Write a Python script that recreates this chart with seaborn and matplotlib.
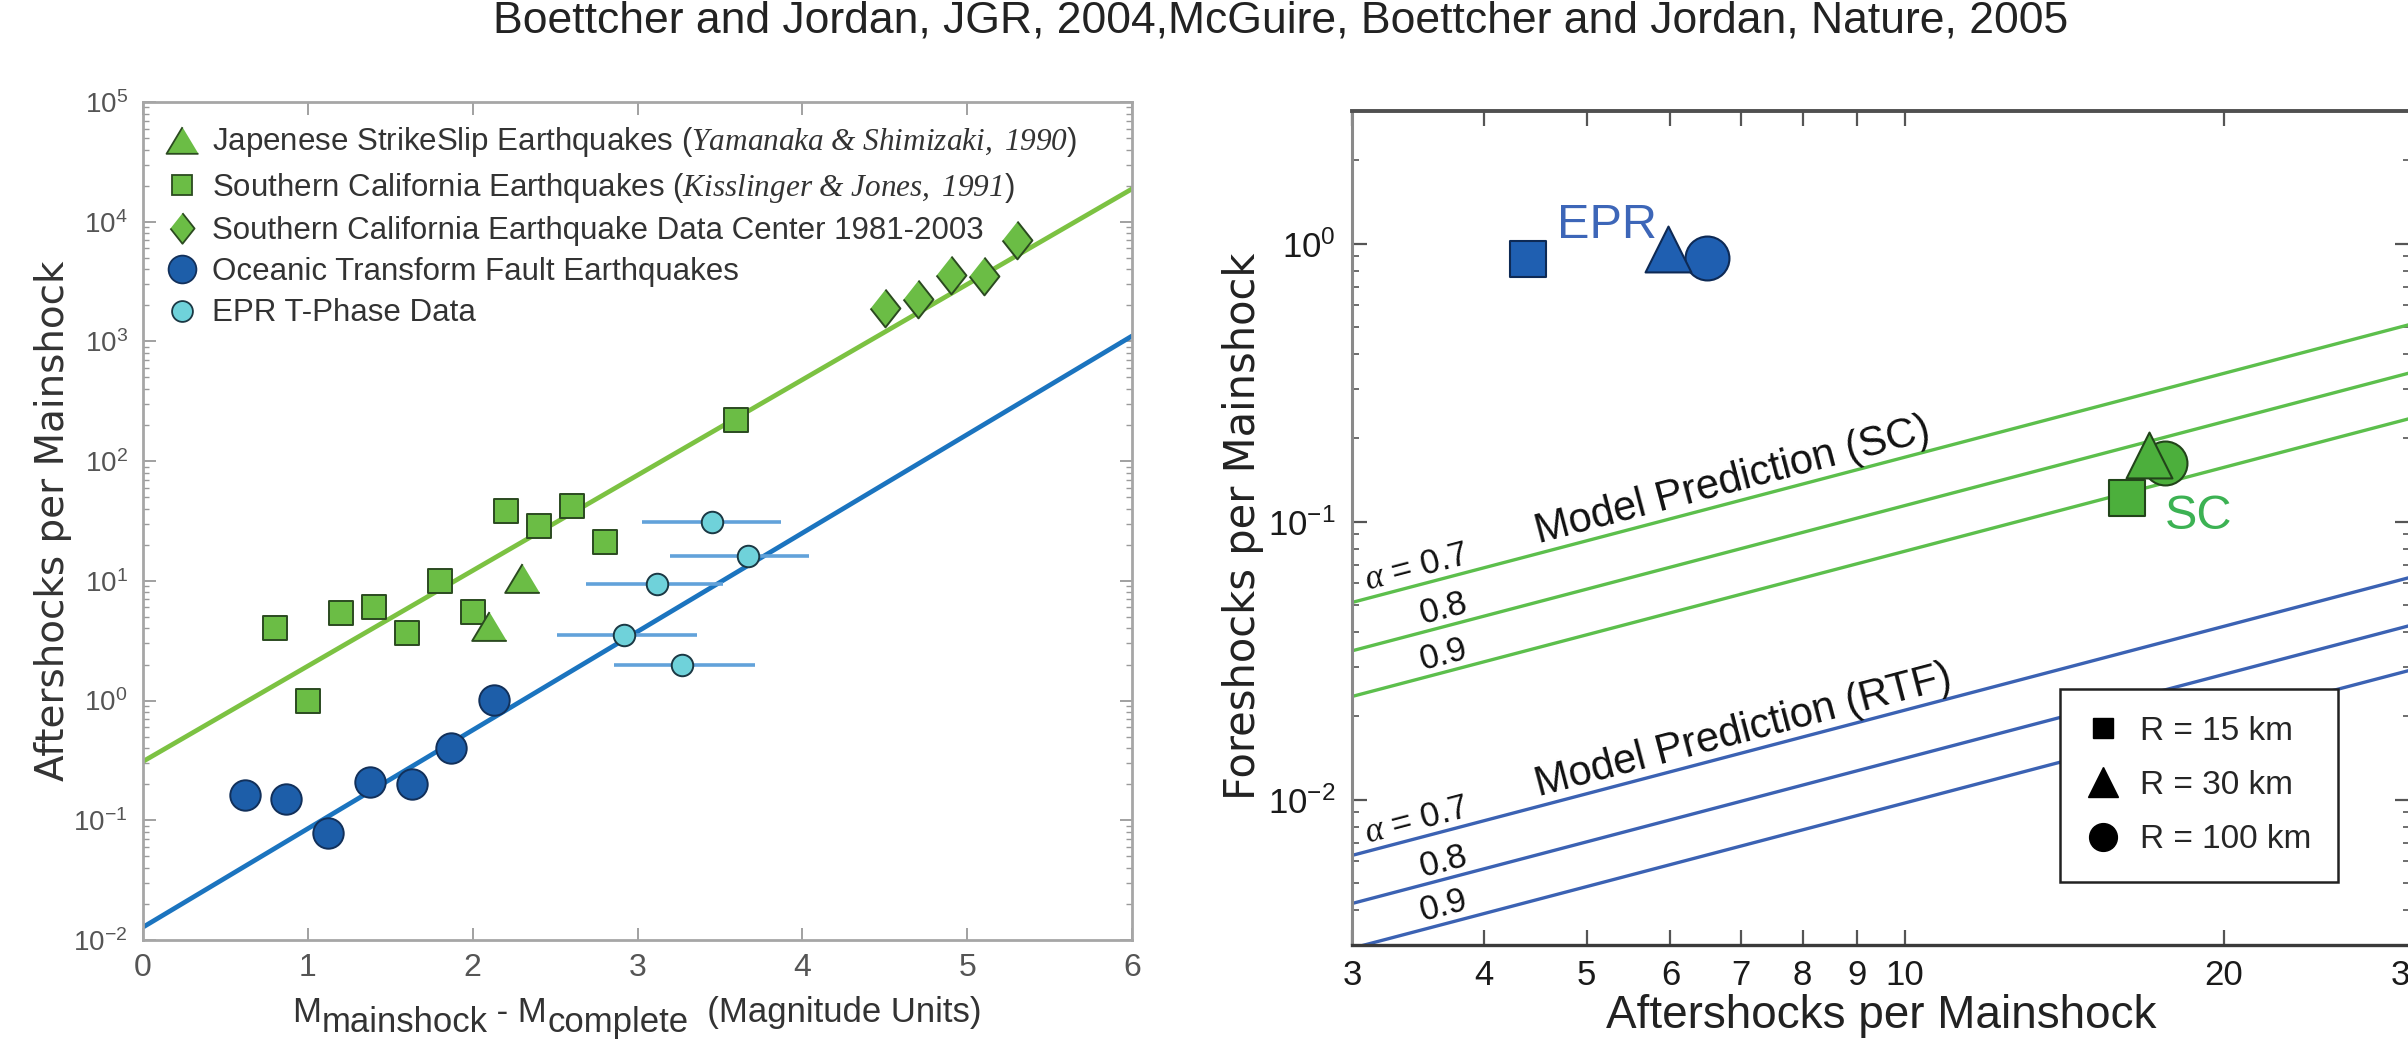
import matplotlib
matplotlib.use("Agg")
import numpy as np
import matplotlib.pyplot as plt
import seaborn as sns
from matplotlib.lines import Line2D
from matplotlib.ticker import (LogLocator, NullFormatter, FixedLocator, FixedFormatter,
                               NullLocator, LogFormatterSciNotation)

# ---------------- left panel: aftershocks vs magnitude difference ----------------
sc_kj_dm = [0.8, 1.0, 1.2, 1.4, 1.6, 1.8, 2.0, 2.2, 2.4, 2.6, 2.8, 3.6]
sc_kj_n = [4.0, 1.0, 5.4, 6.1, 3.7, 10.0, 5.5, 38, 29, 42, 21, 220]
jp_ss_dm = [2.1, 2.3]
jp_ss_n = [4.2, 10.5]
scedc_dm = [4.5, 4.7, 4.9, 5.1, 5.3]
scedc_n = [1900, 2250, 3600, 3500, 7000]
rtf_dm = [0.62, 0.87, 1.12, 1.38, 1.63, 1.87, 2.13]
rtf_n = [0.163, 0.152, 0.078, 0.209, 0.20, 0.40, 1.01]
tphase_dm = [3.45, 3.67, 3.12, 2.92, 3.27]
tphase_dm_lo = [3.03, 3.20, 2.69, 2.51, 2.86]
tphase_dm_hi = [3.87, 4.04, 3.52, 3.36, 3.71]
tphase_n = [31, 16, 9.4, 3.5, 2.0]
fit_dm = [0, 6]
fit_sc = [0.31, 18800]
fit_rtf = [0.0128, 1110]
y_ticks_left = [1e-2, 1e-1, 1e0, 1e1, 1e2, 1e3, 1e4, 1e5]

legend_labels = [
    r"Japenese StrikeSlip Earthquakes ($\mathit{Yamanaka\ &\ Shimizaki,\ 1990}$)",
    r"Southern California Earthquakes ($\mathit{Kisslinger\ &\ Jones,\ 1991}$)",
    "Southern California Earthquake Data Center 1981-2003",
    "Oceanic Transform Fault Earthquakes",
    "EPR T-Phase Data",
]
xlabel_left_parts = [("M", False), ("mainshock", True), (" - M", False),
                     ("complete", True), ("  (Magnitude Units)", False)]

# ---------------- right panel: foreshocks vs aftershocks ----------------
radius_labels = ["R = 15 km", "R = 30 km", "R = 100 km"]
epr_after = [4.4, 5.97, 6.5]
epr_fore = [0.88, 0.96, 0.89]
sc_after = [16.2, 17.0, 17.6]
sc_fore = [0.122, 0.174, 0.163]
alpha_levels = [0.7, 0.8, 0.9]
model_after = [3, 30]
sc_model_at3 = [0.0512, 0.0343, 0.0235]
sc_model_at30 = [0.512, 0.343, 0.235]
rtf_model_at3 = [0.0063, 0.00423, 0.00292]
rtf_model_at30 = [0.063, 0.0423, 0.0292]
x_ticks_right = [3, 4, 5, 6, 7, 8, 9, 10, 20, 30]
y_ticks_right = [1e-2, 1e-1, 1e0]

title = "Boettcher and Jordan, JGR, 2004,McGuire, Boettcher and Jordan, Nature, 2005"

# ---------------- style ----------------
sns.set_theme(style="ticks")
plt.rcParams["font.family"] = ["Liberation Sans", "DejaVu Sans"]
plt.rcParams["mathtext.fontset"] = "custom"
plt.rcParams["mathtext.rm"] = "Liberation Serif:italic"
plt.rcParams["mathtext.it"] = "Liberation Serif:italic"
plt.rcParams["mathtext.sf"] = "Liberation Sans"
plt.rcParams["mathtext.bf"] = "Liberation Sans:bold"

GREEN_FILL = "#6bbd45"
GREEN_EDGE = "#2b4a20"
GREEN_LINE = "#7cc242"
BLUE_LINE = "#1b74bf"
BLUE_FILL = "#1d5ea9"
BLUE_EDGE = "#12305a"
CYAN_FILL = "#6fd2da"
CYAN_EDGE = "#1b3844"
ERR_BLUE = "#62a2da"

W, H = 2408, 1047
fig = plt.figure(figsize=(W / 100, H / 100), dpi=100)
fig.patch.set_facecolor("white")
renderer = fig.canvas.get_renderer()


def rect(x0, x1, y0, y1):
    return [x0 / W, 1 - y1 / H, (x1 - x0) / W, (y1 - y0) / H]


# ================= left panel =================
axL = fig.add_axes(rect(143, 1132, 102, 940))
axL.set_yscale("log")
axL.set_xlim(0, 6)
axL.set_ylim(1e-2, 1e5)

sns.lineplot(x=fit_dm, y=fit_sc, ax=axL, color=GREEN_LINE, lw=3.4, zorder=2)
sns.lineplot(x=fit_dm, y=fit_rtf, ax=axL, color=BLUE_LINE, lw=3.4, zorder=2)

axL.hlines(tphase_n, tphase_dm_lo, tphase_dm_hi, color=ERR_BLUE, lw=2.6, zorder=2.5)

tri_wide = [(0, 1), (-1.2, -1), (1.2, -1)]
diamond_thin = [(0, 1), (0.79, 0), (0, -1), (-0.79, 0)]

sns.scatterplot(x=sc_kj_dm, y=sc_kj_n, ax=axL, marker="s", s=300, color=GREEN_FILL,
                edgecolor=GREEN_EDGE, linewidth=1.4, zorder=3)
sns.scatterplot(x=jp_ss_dm, y=jp_ss_n, ax=axL, marker=tri_wide, s=620, color=GREEN_FILL,
                edgecolor=GREEN_EDGE, linewidth=1.4, zorder=3)
sns.scatterplot(x=scedc_dm, y=scedc_n, ax=axL, marker=diamond_thin, s=740, color=GREEN_FILL,
                edgecolor=GREEN_EDGE, linewidth=1.4, zorder=3)
sns.scatterplot(x=rtf_dm, y=rtf_n, ax=axL, marker="o", s=480, color=BLUE_FILL,
                edgecolor=BLUE_EDGE, linewidth=1.4, zorder=3)
sns.scatterplot(x=tphase_dm, y=tphase_n, ax=axL, marker="o", s=240, color=CYAN_FILL,
                edgecolor=CYAN_EDGE, linewidth=1.4, zorder=3)

axL.set_xticks(range(7))
axL.yaxis.set_major_locator(FixedLocator(y_ticks_left))
axL.yaxis.set_major_formatter(LogFormatterSciNotation())
axL.yaxis.set_minor_locator(LogLocator(base=10, subs=np.arange(2, 10), numticks=12))
axL.yaxis.set_minor_formatter(NullFormatter())
axL.tick_params(which="both", direction="in", top=True, right=True, colors="#9a9a9a",
                labelcolor="#555555")
axL.tick_params(which="major", length=9, width=1.3)
axL.tick_params(which="minor", length=4, width=1.0)
axL.tick_params(axis="x", labelsize=23, pad=9)
axL.tick_params(axis="y", labelsize=20, pad=11)
for sp in axL.spines.values():
    sp.set_color("#a6a6a6")
    sp.set_linewidth(2.0)
axL.set_xlabel("")
axL.set_ylabel("")

handles = [
    Line2D([], [], ls="none", marker=tri_wide, ms=23, mfc=GREEN_FILL, mec=GREEN_EDGE, mew=1.3),
    Line2D([], [], ls="none", marker="s", ms=15, mfc=GREEN_FILL, mec=GREEN_EDGE, mew=1.3),
    Line2D([], [], ls="none", marker=diamond_thin, ms=22, mfc=GREEN_FILL, mec=GREEN_EDGE, mew=1.3),
    Line2D([], [], ls="none", marker="o", ms=20, mfc=BLUE_FILL, mec=BLUE_EDGE, mew=1.3),
    Line2D([], [], ls="none", marker="o", ms=15, mfc=CYAN_FILL, mec=CYAN_EDGE, mew=1.3),
]
legL = axL.legend(handles, legend_labels, loc="upper left", frameon=False,
                  prop={"size": 22.5}, labelspacing=0.36, handlelength=1.0,
                  handletextpad=0.45, borderaxespad=0.3, borderpad=0.45)
for t in legL.get_texts():
    t.set_color("#333333")

fig.text(53 / W, 1 - 521 / H, "Aftershocks per Mainshock", rotation=90, ha="center",
         va="center", fontsize=28, family="DejaVu Sans", color="#333333")

# x label of the left panel: full-size, lowered subscripts laid out piece by piece
pieces = []
for txt, sub in xlabel_left_parts:
    t = fig.text(0.5, 0.5, txt, fontsize=25, ha="left", va="baseline", color="#333333")
    pieces.append((t, t.get_window_extent(renderer).width, sub))
x_cur = 637 - sum(w for _, w, _ in pieces) / 2
for t, w, sub in pieces:
    t.set_position((x_cur / W, 1 - (1022 + (10 if sub else 0)) / H))
    x_cur += w

# ================= right panel =================
axR = fig.add_axes(rect(1352, 2410, 111, 945))
axR.set_xscale("log")
axR.set_yscale("log")
axR.set_xlim(3, 30)
axR.set_ylim(0.003, 3)

SC_LINE = "#5cbf4c"
RTF_LINE = "#3b62b3"
for lo, hi in zip(sc_model_at3, sc_model_at30):
    sns.lineplot(x=model_after, y=[lo, hi], ax=axR, color=SC_LINE, lw=2.4, zorder=2)
for lo, hi in zip(rtf_model_at3, rtf_model_at30):
    sns.lineplot(x=model_after, y=[lo, hi], ax=axR, color=RTF_LINE, lw=2.4, zorder=2)

# on-screen slope of the model lines, used to align the annotations
p0 = axR.transData.transform((model_after[0], sc_model_at3[0]))
p1 = axR.transData.transform((model_after[1], sc_model_at30[0]))
ang = np.degrees(np.arctan2(p1[1] - p0[1], p1[0] - p0[0]))


def on_line(at3, at30, x):
    return at3 * (at30 / at3) ** np.log10(x / 3)


for at3, at30, name in [(sc_model_at3, sc_model_at30, "SC"), (rtf_model_at3, rtf_model_at30, "RTF")]:
    axR.text(4.5, on_line(at3[0], at30[0], 4.5) * 1.09, f"Model Prediction ({name})",
             rotation=ang, rotation_mode="anchor", ha="left", va="baseline",
             fontsize=30, color="#111111")
    for i, a in enumerate(alpha_levels):
        xa = 3.1 if i == 0 else 3.5
        lab = r"$\alpha$ = " + f"{a}" if i == 0 else f"{a}"
        axR.text(xa, on_line(at3[i], at30[i], xa) * 1.07, lab, rotation=ang,
                 rotation_mode="anchor", ha="left", va="baseline", fontsize=25,
                 color="#111111")

EPR_FILL = "#1f5fb1"
EPR_EDGE = "#0e2a55"
SCP_FILL = "#4caf3c"
SCP_EDGE = "#22441a"
marks = ["s", "^", "o"]
sizes = [680, 1090, 1000]
for idx in [2, 1, 0]:
    sns.scatterplot(x=[epr_after[idx]], y=[epr_fore[idx]], ax=axR, marker=marks[idx],
                    s=sizes[idx], color=EPR_FILL, edgecolor=EPR_EDGE, linewidth=1.5, zorder=3)
    sns.scatterplot(x=[sc_after[idx]], y=[sc_fore[idx]], ax=axR, marker=marks[idx],
                    s=sizes[idx], color=SCP_FILL, edgecolor=SCP_EDGE, linewidth=1.5, zorder=3)

axR.text(4.69, 1.05, "EPR", fontsize=35, color="#3d66b8", ha="left", va="baseline")
axR.text(17.6, 0.094, "SC", fontsize=35, color="#3cb253", ha="left", va="baseline")

axR.xaxis.set_major_locator(FixedLocator(x_ticks_right))
axR.xaxis.set_major_formatter(FixedFormatter([str(v) for v in x_ticks_right]))
axR.xaxis.set_minor_locator(NullLocator())
axR.yaxis.set_major_locator(FixedLocator(y_ticks_right))
axR.yaxis.set_major_formatter(LogFormatterSciNotation())
axR.yaxis.set_minor_locator(LogLocator(base=10, subs=np.arange(2, 10), numticks=12))
axR.yaxis.set_minor_formatter(NullFormatter())
axR.tick_params(which="both", direction="in", top=True, right=True, colors="#555555",
                labelcolor="#1a1a1a")
axR.tick_params(which="major", length=11, width=1.6)
axR.tick_params(which="minor", length=5, width=1.2)
axR.tick_params(axis="x", labelsize=25, pad=10)
axR.tick_params(axis="y", labelsize=25, pad=12)
axR.spines["top"].set_color("#505050")
axR.spines["top"].set_linewidth(2.8)
axR.spines["bottom"].set_color("#3a3a3a")
axR.spines["bottom"].set_linewidth(2.4)
axR.spines["left"].set_color("#8a8a8a")
axR.spines["left"].set_linewidth(2.2)
axR.spines["right"].set_color("#8a8a8a")
axR.spines["right"].set_linewidth(2.2)
axR.set_xlabel("")
axR.set_ylabel("")

r_handles = [Line2D([], [], ls="none", marker=m, ms=s, mfc="black", mec="black")
             for m, s in zip(["s", "^", "o"], [15, 21, 20])]
legR = axR.legend(r_handles, radius_labels, loc="upper left",
                  bbox_to_anchor=((2060 - 1352) / 1058, 1 - (689 - 111) / 834),
                  borderaxespad=0, frameon=True, fancybox=False, prop={"size": 24},
                  labelspacing=0.7, handlelength=1.0, handletextpad=0.6, borderpad=0.8)
legR.get_frame().set_edgecolor("#222222")
legR.get_frame().set_linewidth(1.8)
legR.get_frame().set_alpha(1)

fig.text(1243 / W, 1 - 526 / H, "Foreshocks per Mainshock", rotation=90, ha="center",
         va="center", fontsize=30, family="DejaVu Sans", color="#222222")
fig.text(1881 / W, 1 - 1028 / H, "Aftershocks per Mainshock", ha="center",
         va="baseline", fontsize=33, color="#222222")

fig.text(1281 / W, 1 - 33 / H, title, ha="center", va="baseline", fontsize=32,
         color="#222222")

fig.savefig("out.png", dpi=100, facecolor="white")
